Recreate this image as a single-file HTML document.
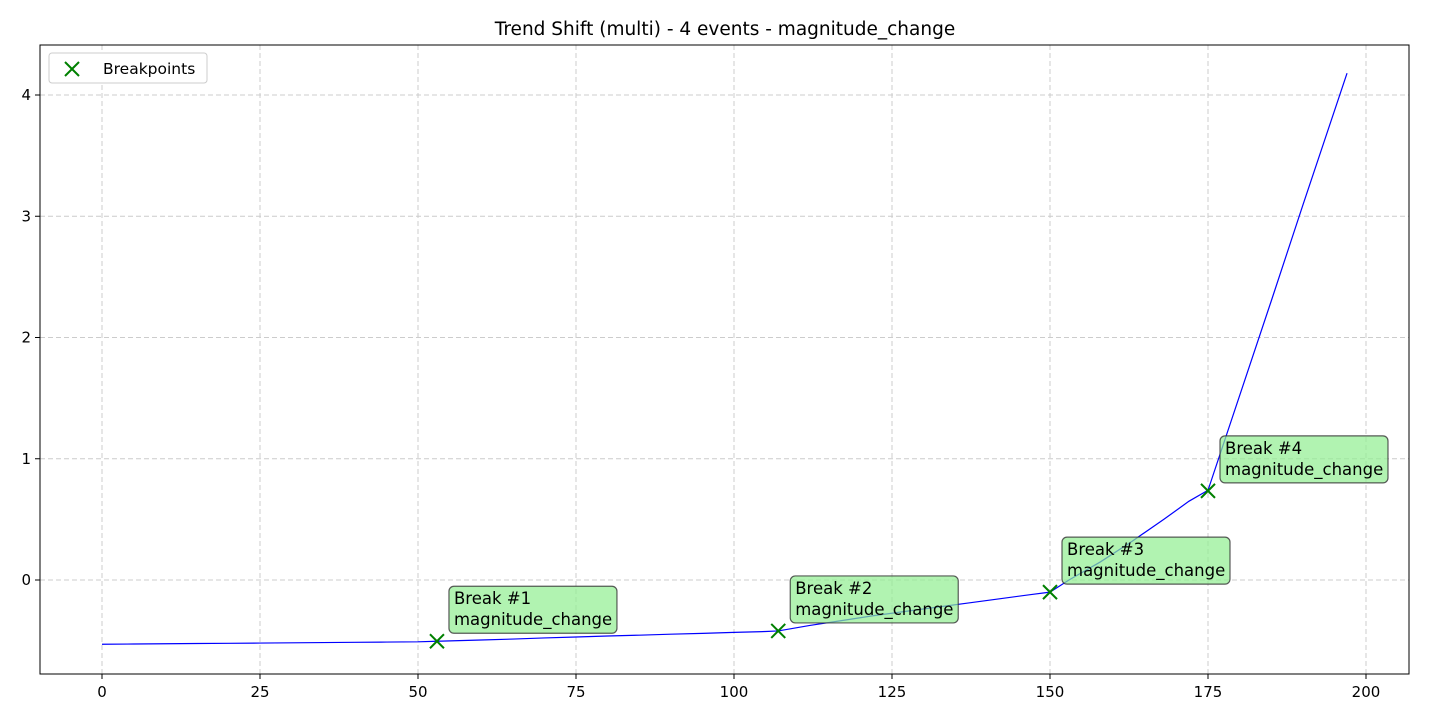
<!DOCTYPE html>
<html><head><meta charset="utf-8"><style>
body{margin:0;background:#fff;font-family:"Liberation Sans","DejaVu Sans",sans-serif}
svg text{font-family:"DejaVu Sans","Liberation Sans",sans-serif}
</style></head><body>
<svg id="chart" width="1440" height="720" xmlns="http://www.w3.org/2000/svg">
<rect width="1440" height="720" fill="#fff"/>
<text x="725" y="35" font-size="18.5" text-anchor="middle">Trend Shift (multi) - 4 events - magnitude_change</text>
<g id="grid"></g><g id="series"></g><g id="marks"></g><g id="ann"></g><g id="axes"></g>
<g>
<rect x="49" y="53" width="158" height="30" rx="3" fill="#fff" stroke="#ccc"/>
<path d="M65 62 L79 76 M79 62 L65 76" stroke="green" stroke-width="2"/>
<text x="103" y="74" font-size="15.5">Breakpoints</text>
</g>
</svg>
<script>
const xs=[0,5,10,15,20,25,30,35,40,45,50,53,60,65,70,75,80,85,90,95,100,105,107,112,117,122,127,132,137,142,147,150,153,158,163,168,172,175,180,185,190,197];
const ys=[-0.53,-0.528,-0.526,-0.524,-0.522,-0.52,-0.518,-0.516,-0.514,-0.512,-0.51,-0.505,-0.495,-0.487,-0.478,-0.47,-0.462,-0.455,-0.447,-0.44,-0.432,-0.425,-0.42,-0.375,-0.335,-0.295,-0.26,-0.225,-0.19,-0.155,-0.12,-0.1,0.0,0.15,0.32,0.5,0.65,0.74,1.52,2.3,3.09,4.18];
const bpX=[53,107,150,175];
const bpY=[-0.505,-0.42,-0.1,0.735];
const bpLabels=["Break #1","Break #2","Break #3","Break #4"];
const xTicks=[0,25,50,75,100,125,150,175,200];
const yTicks=[0,1,2,3,4];
const L=40,R=1409,T=45,B=674;
const sx=v=>102+v*6.32, sy=v=>580-v*121.25;
const NS="http://www.w3.org/2000/svg";
function mk(tag,attrs,parent,txt){const e=document.createElementNS(NS,tag);for(const k in attrs)e.setAttribute(k,attrs[k]);if(txt!==undefined)e.textContent=txt;document.getElementById(parent).appendChild(e);return e;}
xTicks.forEach(t=>{
 const g=mk('line',{x1:sx(t),x2:sx(t),y1:T,y2:B,stroke:'#ccc','stroke-dasharray':'5,3'},'grid');
 
 
 mk('line',{x1:sx(t),x2:sx(t),y1:B,y2:B+5,stroke:'#000'},'axes');
 const l=mk('text',{x:sx(t),y:B+23,'font-size':'15','text-anchor':'middle'},'axes',t);
 
 
});
yTicks.forEach(t=>{
 const g=mk('line',{x1:L,x2:R,y1:sy(t),y2:sy(t),stroke:'#ccc','stroke-dasharray':'5,3'},'grid');
 
 
 mk('line',{x1:L-5,x2:L,y1:sy(t),y2:sy(t),stroke:'#000'},'axes');
 const l=mk('text',{x:L-9,y:sy(t)+5,'font-size':'15','text-anchor':'end'},'axes',t);
 
 
});
const frame=mk('rect',{x:L,y:T,width:R-L,height:B-T,fill:'none',stroke:'#000'},'axes');


const line=mk('polyline',{points:xs.map((x,i)=>sx(x)+','+sy(ys[i])).join(' '),fill:'none',stroke:'blue','stroke-width':'1.2'},'series');


bpX.forEach((x,i)=>{
 const px=sx(x),py=sy(bpY[i]);
 const m=mk('path',{d:`M${px-7} ${py-7} L${px+7} ${py+7} M${px+7} ${py-7} L${px-7} ${py+7}`,stroke:'green','stroke-width':'2'},'marks');
 
 
 const b=mk('rect',{x:px+12,y:py-55,width:168,height:47,rx:5,fill:'rgb(144,238,144)','fill-opacity':'0.7',stroke:'#333','stroke-opacity':'0.8','stroke-width':'1.2'},'ann');
 
 
 mk('text',{x:px+17,y:py-37,'font-size':'16.5'},'ann',bpLabels[i]);
 mk('text',{x:px+17,y:py-16,'font-size':'16.5'},'ann','magnitude_change');
});
</script>
</body></html>
